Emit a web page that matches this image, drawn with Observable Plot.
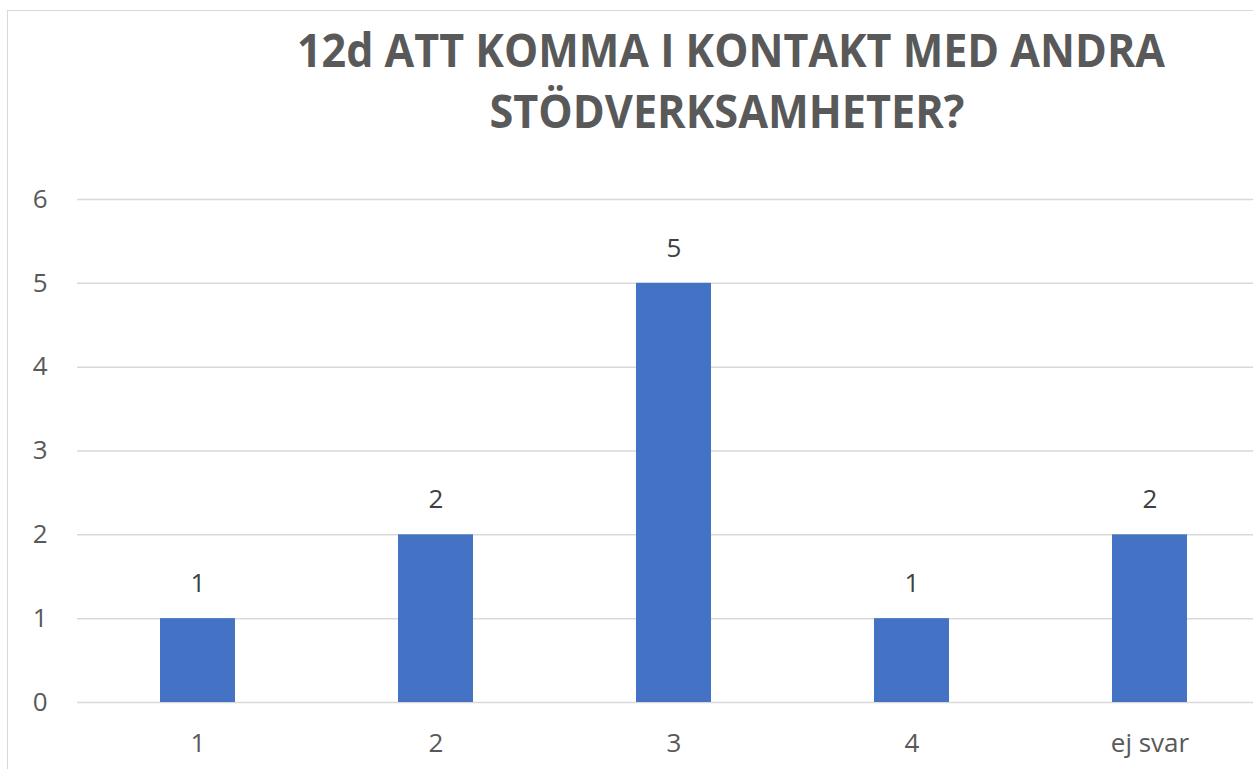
<!DOCTYPE html>
<html>
<head>
<meta charset="utf-8">
<script src="https://cdn.jsdelivr.net/npm/d3@7"></script>
<script src="https://cdn.jsdelivr.net/npm/@observablehq/plot@0.6"></script>
<style>
  html, body { margin: 0; padding: 0; background: #fff; overflow: hidden; }
  #wrap { position: relative; width: 1253px; height: 769px; }
  #title { position: absolute; left: 0; top: 0; }
  #chart { position: absolute; left: 0; top: 0; }
  #frame { position: absolute; left: 7px; top: 10px; width: 1300px; height: 800px; border-left: 1.5px solid #d9d9d9; border-top: 1.5px solid #d9d9d9; box-sizing: border-box; }
</style>
</head>
<body>
<div id="wrap">
  <div id="frame"></div>
  <div id="chart"></div>
  <svg id="title" width="1253" height="150" xmlns="http://www.w3.org/2000/svg">
    <text x="731" y="67" text-anchor="middle" font-family="Open Sans, sans-serif" font-weight="bold" font-size="46" fill="#595959" textLength="868" lengthAdjust="spacingAndGlyphs">12d ATT KOMMA I KONTAKT MED ANDRA</text>
    <text x="727" y="128" text-anchor="middle" font-family="Open Sans, sans-serif" font-weight="bold" font-size="46" fill="#595959" textLength="475" lengthAdjust="spacingAndGlyphs">STÖDVERKSAMHETER?</text>
  </svg>
</div>
<script>
const categories = ["1", "2", "3", "4", "ej svar"];
const values = [1, 2, 5, 1, 2];
const yTicks = [0, 1, 2, 3, 4, 5, 6];

const data = categories.map((c, i) => ({category: c, value: values[i]}));

const chart = Plot.plot({
  width: 1253,
  height: 769,
  marginLeft: 77,
  marginRight: 0,
  marginTop: 199,
  marginBottom: 67,
  style: {fontFamily: "Open Sans, sans-serif", fontSize: "26px", color: "#595959", background: "transparent"},
  x: {domain: categories, range: [77, 1269], paddingInner: 0.686, paddingOuter: 0.343, label: null},
  y: {domain: [0, 6], ticks: yTicks, label: null},
  marks: [
    Plot.ruleY(yTicks, {stroke: "#d9d9d9", strokeWidth: 1.5}),
    Plot.barY(data, {x: "category", y: "value", fill: "#4472C4"}),
    Plot.text(data, {x: "category", y: "value", text: d => String(d.value), dy: -35, fill: "#404040", fontSize: 26}),
    Plot.axisX({tickSize: 0, tickPadding: 31, fontSize: 26, fill: "#595959"}),
    Plot.axisY({ticks: yTicks, tickSize: 0, tickPadding: 30, fontSize: 26, fill: "#595959", tickFormat: d => String(d)})
  ]
});
document.getElementById("chart").appendChild(chart);
</script>
</body>
</html>
